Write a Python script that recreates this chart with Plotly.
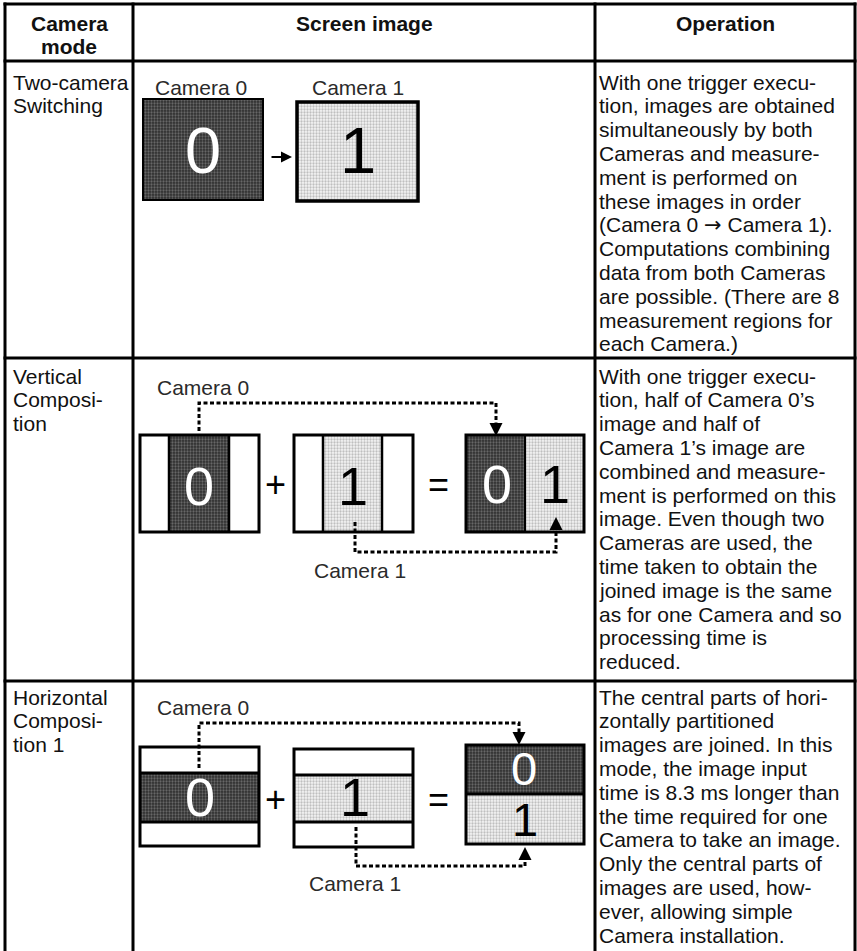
import plotly.graph_objects as go

# ---------------- data (texts of the table) ----------------
header_mode = ["Camera", "mode"]
header_screen = "Screen image"
header_operation = "Operation"

modes = [
    ["Two-camera", "Switching"],
    ["Vertical", "Composi-", "tion"],
    ["Horizontal", "Composi-", "tion 1"],
]

ARROW = '<span style="font-family:DejaVu Sans">\u2192</span>'
descriptions = [
    ["With one trigger execu-", "tion, images are obtained", "simultaneously by both",
     "Cameras and measure-", "ment is performed on", "these images in order",
     "(Camera 0 " + ARROW + " Camera 1).", "Computations combining", "data from both Cameras",
     "are possible. (There are 8", "measurement regions for", "each Camera.)"],
    ["With one trigger execu-", "tion, half of Camera 0\u2019s", "image and half of",
     "Camera 1\u2019s image are", "combined and measure-", "ment is performed on this",
     "image. Even though two", "Cameras are used, the", "time taken to obtain the",
     "joined image is the same", "as for one Camera and so", "processing time is",
     "reduced."],
    ["The central parts of hori-", "zontally partitioned", "images are joined. In this",
     "mode, the image input", "time is 8.3 ms longer than", "the time required for one",
     "Camera to take an image.", "Only the central parts of", "images are used, how-",
     "ever, allowing simple", "Camera installation."],
]

camera_labels = ["Camera 0", "Camera 1"]
digits = ["0", "1"]
operators = ["+", "="]

# ---------------- layout constants ----------------
W, H = 857, 951
FONT = "Liberation Sans, Arial, Helvetica, sans-serif"
BODY = 21
TXT = "#111111"
col_x = [5, 133, 595, 855]
row_y = [4, 61, 358, 681]
text_first = [82, 376, 697]
LS = 23.8

DARK = dict(shape=".", bgcolor="#2e2e2e", fgcolor="#a0a0a0", size=3, solidity=0.45)
LIGHT = dict(shape=".", bgcolor="#f4f4f4", fgcolor="#8a8a8a", size=3, solidity=0.45)

fig = go.Figure()
shapes = []
ann = []


def line(x0, y0, x1, y1, w=3, color="black"):
    shapes.append(dict(type="line", xref="x", yref="y", x0=x0, y0=y0, x1=x1, y1=y1,
                       line=dict(color=color, width=w)))


def rect_outline(x0, y0, x1, y1, w=3):
    shapes.append(dict(type="rect", xref="x", yref="y", x0=x0, y0=y0, x1=x1, y1=y1,
                       line=dict(color="black", width=w), fillcolor="rgba(0,0,0,0)",
                       layer="above"))


def pat_rect(x0, y0, x1, y1, pat):
    fig.add_trace(go.Scatter(x=[x0, x1, x1, x0, x0], y=[y0, y0, y1, y1, y0],
                             mode="lines", fill="toself", line=dict(width=0),
                             fillcolor=pat["bgcolor"], fillpattern=pat,
                             hoverinfo="skip"))


def text(x, y, s, size=BODY, color=TXT, anchor="left", bold=False):
    ann.append(dict(x=x, y=y, xref="x", yref="y", text=("<b>%s</b>" % s) if bold else s,
                    showarrow=False, xanchor=anchor, yanchor="middle",
                    font=dict(family=FONT, size=size, color=color)))


def arrow(tx, ty, ax, ay, w=2, size=1.2):
    ann.append(dict(x=tx, y=ty, ax=ax, ay=ay, xref="x", yref="y", axref="x", ayref="y",
                    text="", showarrow=True, arrowhead=2, arrowsize=size, arrowwidth=w,
                    arrowcolor="black", standoff=0, startstandoff=0))


def dotted(xs, ys):
    fig.add_trace(go.Scatter(x=xs, y=ys, mode="lines",
                             line=dict(color="black", width=3, dash="4px,2.5px"),
                             hoverinfo="skip"))


# ---------------- table grid ----------------
for x in col_x:
    line(x, row_y[0] - 1.5, x, H)
for y in row_y:
    line(col_x[0] - 1.5, y, col_x[-1] + 1.5, y)

# header
text(69, 23, header_mode[0], anchor="center", bold=True)
text(69, 46, header_mode[1], anchor="center", bold=True)
text((col_x[1] + col_x[2]) / 2, 23, header_screen, anchor="center", bold=True)
text((col_x[2] + col_x[3]) / 2, 23, header_operation, anchor="center", bold=True)

# mode column and operation column
for r in range(3):
    for i, s in enumerate(modes[r]):
        text(11, text_first[r] + i * LS, s)
    for i, s in enumerate(descriptions[r]):
        text(597, text_first[r] + i * LS, s)

LBL = "#2a2a2a"

# ---------------- row 1: two-camera switching ----------------
pat_rect(143, 99, 263, 200, DARK)
rect_outline(143, 99, 263, 200, w=2)
pat_rect(297, 102, 418, 201, LIGHT)
rect_outline(297, 102, 418, 201, w=3.5)
text(203, 150, digits[0], size=65, color="white", anchor="center")
text(358, 150, digits[1], size=65, color="black", anchor="center")
text(201, 87, camera_labels[0], size=21, color=LBL, anchor="center")
text(358, 87, camera_labels[1], size=21, color=LBL, anchor="center")
arrow(292, 157, 270, 157, w=2, size=1.1)

# ---------------- row 2: vertical composition ----------------
pat_rect(169, 435, 229, 532, DARK)
line(169, 435, 169, 532, w=2.5)
line(229, 435, 229, 532, w=2.5)
rect_outline(140, 435, 259, 532)
pat_rect(323, 435, 382, 532, LIGHT)
line(323, 435, 323, 532, w=2.5)
line(382, 435, 382, 532, w=2.5)
rect_outline(294, 435, 413, 532)
pat_rect(466, 435, 525, 532, DARK)
pat_rect(525, 435, 584, 532, LIGHT)
line(525, 435, 525, 532, w=2)
rect_outline(466, 435, 584, 532)

text(199, 486, digits[0], size=54, color="white", anchor="center")
text(353, 486, digits[1], size=54, color="black", anchor="center")
text(497, 484, digits[0], size=54, color="white", anchor="center")
text(555, 484, digits[1], size=54, color="black", anchor="center")
text(275, 484, operators[0], size=36, color="black", anchor="center")
text(438, 484, operators[1], size=36, color="black", anchor="center")

text(203, 387, camera_labels[0], size=21, color=LBL, anchor="center")
text(360, 570, camera_labels[1], size=21, color=LBL, anchor="center")
dotted([199, 199, 496, 496], [431, 403, 403, 425])
arrow(496, 436, 496, 422, w=2, size=1.3)
dotted([355, 355, 556, 556], [522, 552, 552, 528])
arrow(556, 517, 556, 531, w=2, size=1.3)

# ---------------- row 3: horizontal composition 1 ----------------
pat_rect(140, 773, 259, 822, DARK)
line(140, 773, 259, 773, w=3)
line(140, 822, 259, 822, w=3)
rect_outline(140, 747, 259, 846)
pat_rect(294, 775, 413, 822, LIGHT)
line(294, 775, 413, 775, w=3)
line(294, 822, 413, 822, w=3)
rect_outline(294, 749, 413, 847)
pat_rect(466, 745, 584, 794, DARK)
pat_rect(466, 794, 584, 844, LIGHT)
line(466, 794, 584, 794, w=3)
rect_outline(466, 745, 584, 844)

text(200, 797, digits[0], size=54, color="white", anchor="center")
text(355, 797, digits[1], size=54, color="black", anchor="center")
text(524, 768, digits[0], size=47, color="white", anchor="center")
text(525, 819, digits[1], size=47, color="black", anchor="center")
text(275, 799, operators[0], size=36, color="black", anchor="center")
text(438, 799, operators[1], size=36, color="black", anchor="center")

text(203, 707, camera_labels[0], size=21, color=LBL, anchor="center")
text(355, 883, camera_labels[1], size=21, color=LBL, anchor="center")
dotted([199, 199, 519, 519], [768, 723, 723, 735])
arrow(519, 745, 519, 732, w=2, size=1.3)
dotted([356, 356, 525, 525], [827, 866, 866, 858])
arrow(525, 847, 525, 860, w=2, size=1.3)

fig.update_layout(
    width=W, height=H, margin=dict(l=0, r=0, t=0, b=0),
    paper_bgcolor="white", plot_bgcolor="white", showlegend=False,
    xaxis=dict(range=[0, W], visible=False, fixedrange=True),
    yaxis=dict(range=[H, 0], visible=False, fixedrange=True),
    shapes=shapes, annotations=ann,
)

fig.write_html("out.html", config={"displayModeBar": False},
               post_script="document.body.style.margin='0';document.body.style.overflow='hidden';")
